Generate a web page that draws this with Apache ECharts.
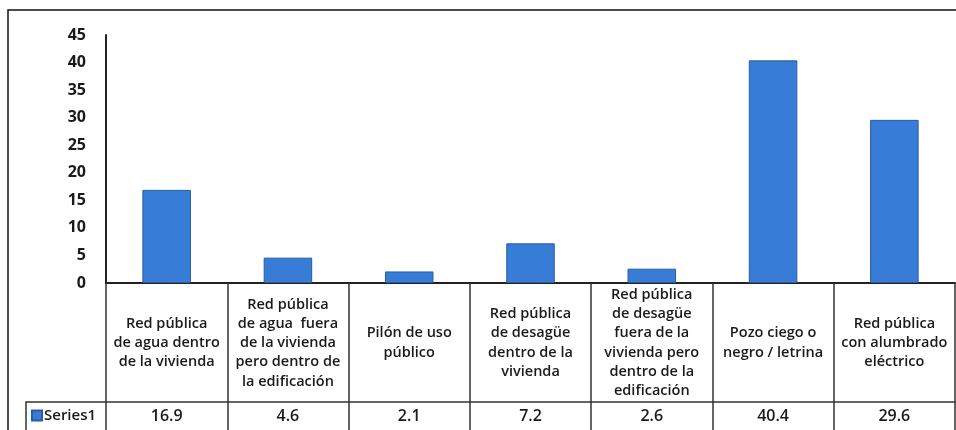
<!DOCTYPE html>
<html>
<head>
<meta charset="utf-8">
<script src="https://cdn.jsdelivr.net/npm/echarts@6/dist/echarts.min.js"></script>
<style>
  html, body { margin: 0; padding: 0; background: #fff; }
  #main { width: 956px; height: 430px; }
</style>
</head>
<body>
<div id="main"></div>
<script>
// categorias (texto de la tabla de datos)
var categories = [
  'Red pública\nde agua dentro\nde la vivienda',
  'Red pública\nde agua  fuera\nde la vivienda\npero dentro de\nla edificación',
  'Pilón de uso\npúblico',
  'Red pública\nde desagüe\ndentro de la\nvivienda',
  'Red pública\nde desagüe\nfuera de la\nvivienda pero\ndentro de la\nedificación',
  'Pozo ciego o\nnegro / letrina',
  'Red pública\ncon alumbrado\neléctrico'
]
// valores de la serie
var seriesName = 'Series1'
var values = [16.9, 4.6, 2.1, 7.2, 2.6, 40.4, 29.6]
// eje y
var yMin = 0
var yMax = 45
var yStep = 5

var font = 'Open Sans'
var lineColor = '#333'

var chart = echarts.init(document.getElementById('main'), null, { renderer: 'canvas' })

chart.setOption({
  animation: false,
  textStyle: { fontFamily: font },
  grid: { left: 106, right: 1, top: 35, bottom: 147 },
  legend: {
    data: [seriesName],
    left: 31,
    top: 408,
    icon: 'rect',
    itemWidth: 10,
    itemHeight: 10,
    itemGap: 4,
    padding: 0,
    selectedMode: false,
    textStyle: { fontFamily: font, fontSize: 15, fontWeight: 600, color: '#1a1a1a', padding: [0, 0, 0, -3] }
  },
  xAxis: [
    {
      // fila de encabezados
      type: 'category',
      data: categories,
      axisLine: { lineStyle: { color: '#222', width: 2 } },
      axisTick: { show: true, length: 147, lineStyle: { color: lineColor, width: 1.5 } },
      axisLabel: {
        interval: 0,
        margin: 60,
        verticalAlign: 'middle',
        lineHeight: 19.3,
        fontSize: 14.5,
        fontWeight: 600,
        color: '#1a1a1a',
        fontFamily: font
      }
    },
    {
      // fila de valores
      type: 'category',
      position: 'bottom',
      offset: 119,
      data: values.map(function (v) { return v.toFixed(1) }),
      axisLine: { show: true, lineStyle: { color: lineColor, width: 1.5 } },
      axisTick: { show: true, length: 28, lineStyle: { color: lineColor, width: 1.5 } },
      axisLabel: {
        interval: 0,
        margin: 14,
        verticalAlign: 'middle',
        fontSize: 16,
        fontWeight: 600,
        color: '#1a1a1a',
        fontFamily: font
      }
    }
  ],
  yAxis: {
    type: 'value',
    min: yMin,
    max: yMax,
    interval: yStep,
    axisLine: { show: true, lineStyle: { color: '#222', width: 2 } },
    axisTick: { show: false },
    splitLine: { show: false },
    axisLabel: { margin: 20, fontSize: 16, fontWeight: 'bold', color: '#1a1a1a', fontFamily: font }
  },
  series: [
    {
      name: seriesName,
      type: 'bar',
      data: values,
      barWidth: '40%',
      itemStyle: { color: '#377cd6', borderColor: '#2a5d9c', borderWidth: 1 }
    }
  ],
  graphic: [
    // marco exterior
    { type: 'rect', shape: { x: 8, y: 10, width: 960, height: 440 }, style: { fill: 'none', stroke: '#111', lineWidth: 1.5 }, silent: true },
    // celda de la leyenda
    { type: 'polyline', shape: { points: [[26, 430], [26, 402], [106, 402]] }, style: { fill: 'none', stroke: lineColor, lineWidth: 1.5 }, silent: true }
  ]
})
</script>
</body>
</html>
